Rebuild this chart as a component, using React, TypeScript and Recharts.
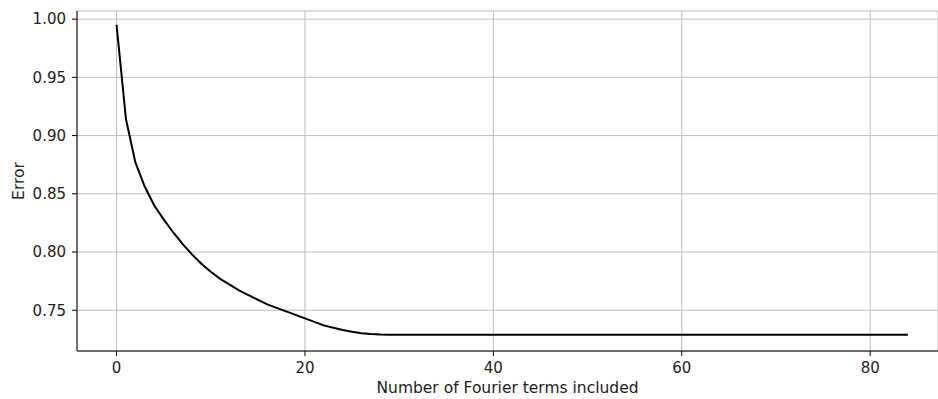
import { CartesianGrid, Line, LineChart, XAxis, YAxis } from "recharts";

// number of Fourier terms included, 0..84
const terms: number[] = Array.from({ length: 85 }, (_, i) => i);

// approximation error for each number of terms
const errorValues: number[] = [
    0.995, 0.914, 0.877, 0.856, 0.840, 0.828, 0.817, 0.807, 0.798, 0.790,
    0.783, 0.777, 0.772, 0.767, 0.763, 0.759, 0.755, 0.752, 0.749, 0.746,
    0.743, 0.740, 0.737, 0.735, 0.733, 0.7315, 0.7303, 0.7296, 0.7292, 0.729,
    0.729, 0.729, 0.729, 0.729, 0.729, 0.729, 0.729, 0.729, 0.729, 0.729,
    0.729, 0.729, 0.729, 0.729, 0.729, 0.729, 0.729, 0.729, 0.729, 0.729,
    0.729, 0.729, 0.729, 0.729, 0.729, 0.729, 0.729, 0.729, 0.729, 0.729,
    0.729, 0.729, 0.729, 0.729, 0.729, 0.729, 0.729, 0.729, 0.729, 0.729,
    0.729, 0.729, 0.729, 0.729, 0.729, 0.729, 0.729, 0.729, 0.729, 0.729,
    0.729, 0.729, 0.729, 0.729, 0.729,
];

const xTicks = [0, 20, 40, 60, 80];
const yTicks = [0.75, 0.8, 0.85, 0.9, 0.95, 1.0];

const data = terms.map((t, i) => ({ terms: t, error: errorValues[i] }));

const tickText = { fill: "#222", fontSize: 15, fontFamily: "DejaVu Sans" };
const labelText = { fill: "#222", fontSize: 15.5, fontFamily: "DejaVu Sans" };

export default function App() {
    return (
        <div style={{ position: "absolute", left: 0, top: 0, background: "#fff" }}>
            <LineChart
                width={938}
                height={399}
                data={data}
                margin={{ top: 11, right: 0, bottom: 0, left: 0 }}
                style={{ fontFamily: "DejaVu Sans" }}
            >
                <CartesianGrid stroke="#bdbdbd" strokeWidth={1} />
                <XAxis
                    dataKey="terms"
                    type="number"
                    domain={[-4.2, 87.2]}
                    ticks={xTicks}
                    allowDataOverflow
                    height={48}
                    stroke="#000"
                    tickSize={5}
                    tickMargin={6}
                    tick={tickText}
                    label={{
                        value: "Number of Fourier terms included",
                        position: "insideBottom",
                        offset: 6,
                        style: labelText,
                    }}
                />
                <XAxis
                    xAxisId="top"
                    orientation="top"
                    type="number"
                    domain={[-4.2, 87.2]}
                    height={0}
                    tick={false}
                    tickLine={false}
                    stroke="#333"
                    strokeWidth={1.5}
                />
                <YAxis
                    type="number"
                    domain={[0.715, 1.007]}
                    ticks={yTicks}
                    allowDataOverflow
                    width={77}
                    stroke="#000"
                    tickSize={5}
                    tickMargin={6}
                    tick={tickText}
                    tickFormatter={(v: number) => v.toFixed(2)}
                    label={{
                        value: "Error",
                        angle: -90,
                        position: "insideLeft",
                        offset: 18,
                        style: { ...labelText, textAnchor: "middle" },
                    }}
                />
                <Line
                    type="linear"
                    dataKey="error"
                    stroke="#000"
                    strokeWidth={2}
                    dot={false}
                    isAnimationActive={false}
                />
            </LineChart>
        </div>
    );
}
